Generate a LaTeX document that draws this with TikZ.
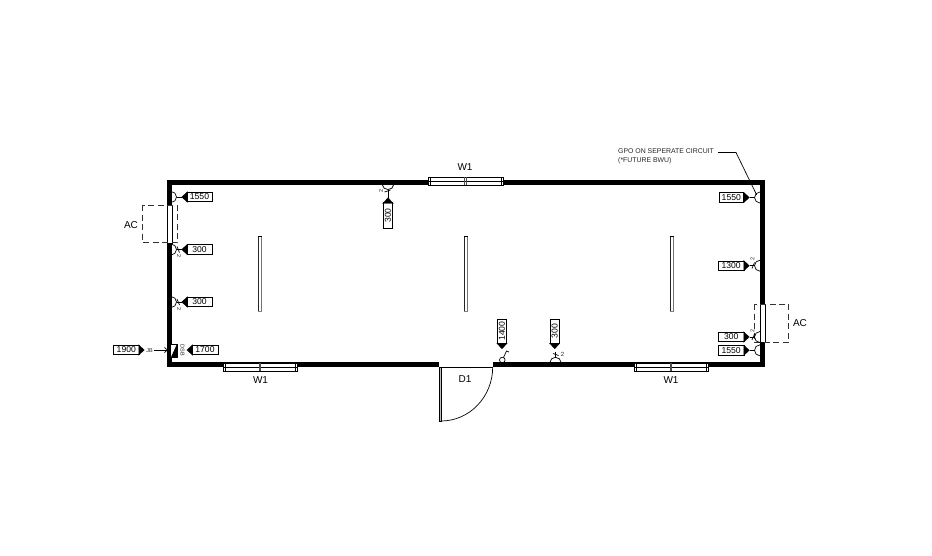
\documentclass[tikz,border=0pt]{standalone}
\usepackage{fontspec}
\setmainfont{Liberation Sans}
\usetikzlibrary{arrows.meta}
\tikzset{
  wall/.style={line width=5.3pt,line join=miter},
  thinline/.style={line width=0.7pt},
  glazing/.style={line width=0.7pt,fill=white},
  acunit/.style={line width=0.7pt,dash pattern=on 6pt off 3.5pt,black!80},
  tagbox/.style={draw,line width=0.7pt,fill=white,inner sep=0pt,minimum height=9.5pt,font=\fontsize{8.6}{9}\selectfont},
  tagtip/.style={-{Triangle[length=6pt,width=11pt]},line width=0.1pt},
  roomlabel/.style={font=\fontsize{10}{11}\selectfont,inner sep=0pt},
  smalllabel/.style={font=\fontsize{5.5}{6}\selectfont,inner sep=0pt,black!85}
}
\begin{document}
\begin{tikzpicture}[x=1pt,y=-1pt]
        \useasboundingbox (0,0) rectangle (932,555);

        %%%%%%%%%% Walls %%%%%%%%%%
        \draw[wall] (439,364.8) -- (169.2,364.8) -- (169.2,182.5) -- (762.5,182.5) -- (762.5,364.8) -- (492.7,364.8);

        %%%%%%%%%% Windows %%%%%%%%%%
        \draw[glazing] (428,177) rectangle (503,185);
        \draw[thinline] (430,177) -- (430,185);
        \draw[thinline] (501,177) -- (501,185);
        \draw[thinline] (428,181) -- (503,181);
        \draw[thinline,black!70] (464.8,177) -- (464.8,185);
        \draw[thinline,black!70] (466.4,177) -- (466.4,185);

        \draw[glazing] (223,363) rectangle (297,371);
        \draw[thinline] (225,363) -- (225,371);
        \draw[thinline] (295,363) -- (295,371);
        \draw[thinline] (223,367) -- (297,367);
        \draw[thinline,black!70] (259.2,363) -- (259.2,371);
        \draw[thinline,black!70] (260.8,363) -- (260.8,371);

        \draw[glazing] (634,363) rectangle (708,371);
        \draw[thinline] (636,363) -- (636,371);
        \draw[thinline] (706,363) -- (706,371);
        \draw[thinline] (634,367) -- (708,367);
        \draw[thinline,black!70] (670.2,363) -- (670.2,371);
        \draw[thinline,black!70] (671.8,363) -- (671.8,371);

        %%%%%%%%%% Door %%%%%%%%%%
        \draw[thinline] (439,367) -- (492.7,367);
        \draw[thinline,fill=black!25] (439,367) rectangle (441,421);
        \draw[thinline] (441,421) arc (90:0:51.7 and 54);

        %%%%%%%%%% AC units %%%%%%%%%%
        \draw[glazing] (167,205) rectangle (172,243);
        \draw[glazing] (760,304) rectangle (765,342);
        \draw[acunit] (142.7,205) rectangle (177.3,242.7);
        \draw[acunit] (754,304) rectangle (788.7,342);

        %%%%%%%%%% Lights %%%%%%%%%%
        \draw[line width=1pt,black!85] (258.3,236) -- (258.3,311);
        \draw[line width=1pt,black!55] (261.5,236) -- (261.5,311);
        \draw[thinline] (257.5,236) -- (262.3,236);
        \draw[thinline,black!50] (257.5,311) -- (262.3,311);
        \draw[line width=1pt,black!85] (464.3,236) -- (464.3,311);
        \draw[line width=1pt,black!55] (467.5,236) -- (467.5,311);
        \draw[thinline] (463.5,236) -- (468.3,236);
        \draw[thinline,black!50] (463.5,311) -- (468.3,311);
        \draw[line width=1pt,black!85] (670.3,236) -- (670.3,311);
        \draw[line width=1pt,black!55] (673.5,236) -- (673.5,311);
        \draw[thinline] (669.5,236) -- (674.3,236);
        \draw[thinline,black!50] (669.5,311) -- (674.3,311);

        %%%%%%%%%% Left wall %%%%%%%%%%
        \node[tagbox,minimum width=25pt] (leftA) at (199.5,197) {1550};
        \node[tagbox,minimum width=25pt] (leftB) at (199.5,249.5) {300};
        \node[tagbox,minimum width=25pt] (leftC) at (199.5,302) {300};
        \node[tagbox,minimum width=26pt] (leftD) at (205,350) {1700};
        \node[tagbox,minimum width=26pt] (leftE) at (126.3,350) {1900};
        \coordinate (tipA) at (181.5,197);
        \coordinate (tipB) at (181.5,249.5);
        \coordinate (tipC) at (181.5,302);
        \coordinate (tipD) at (186.7,350);
        \coordinate (tipE) at (144.5,350);
        \draw[tagtip] (leftA) -- (tipA);
        \draw[tagtip] (leftB) -- (tipB);
        \draw[tagtip] (leftC) -- (tipC);
        \draw[tagtip] (leftD) -- (tipD);
        \draw[tagtip] (leftE) -- (tipE);
        \draw[thinline] (171,191.5) arc (-90:90:5.5);
        \draw[thinline] (176.5,197) -- (tipA);
        \draw[thinline] (171,244) arc (-90:90:5.5);
        \draw[thinline] (176.5,249.5) -- (tipB);
        \draw[thinline] (177,246.5) -- (179.5,252.5);
        \draw[thinline] (171,296.5) arc (-90:90:5.5);
        \draw[thinline] (176.5,302) -- (tipC);
        \draw[thinline] (177,299) -- (179.5,305);
        \node[smalllabel,rotate=-90] (twoB) at (179,256.5) {2};
        \node[smalllabel,rotate=-90] (twoC) at (179,309) {2};
        \node[smalllabel] (jb) at (149.5,350.5) {JB};
        \coordinate (board) at (168,350);
        \draw[thinline,-{Straight Barb[length=3pt,width=5pt]}] (153.5,350) -- (board);
        \draw[thinline,fill=white] (170.7,344) rectangle (177,357.7);
        \fill (170.7,357.7) -- (177,344) -- (177,357.7) -- cycle;
        \node[smalllabel,rotate=-90] (dsb) at (182.5,350.5) {DSB};

        %%%%%%%%%% Top wall %%%%%%%%%%
        \node[tagbox,minimum width=25.6pt,rotate=90] (topA) at (388,215.5) {300};
        \coordinate (tipF) at (388,197.5);
        \draw[tagtip] (topA) -- (tipF);
        \draw[thinline] (382.5,185) arc (180:0:5.5 and 4.5);
        \draw[thinline] (388,189.5) -- (tipF);
        \draw[thinline] (384.5,192) -- (390.5,190);
        \node[smalllabel,rotate=90] (twoF) at (381,190.5) {2};

        %%%%%%%%%% Bottom wall %%%%%%%%%%
        \node[tagbox,minimum width=24pt,rotate=90] (botA) at (502,331) {1400};
        \node[tagbox,minimum width=24pt,rotate=90] (botB) at (554.7,331) {300};
        \coordinate (tipG) at (502,349);
        \coordinate (tipH) at (554.7,349);
        \draw[tagtip] (botA) -- (tipG);
        \draw[tagtip] (botB) -- (tipH);
        \draw[thinline] (502.3,360) circle (2.8);
        \draw[thinline] (503.5,357.5) -- (506.5,351) -- (509,352);
        \draw[thinline] (550,362.3) arc (180:360:5.5 and 5);
        \draw[thinline] (555.5,357.3) -- (555.5,352);
        \draw[thinline] (553,353.5) -- (558.5,355.5);
        \node[font=\fontsize{6}{6}\selectfont,inner sep=0pt,black!85] (twoH) at (562.5,354.5) {2};

        %%%%%%%%%% Right wall %%%%%%%%%%
        \node[tagbox,minimum width=24.5pt] (rightA) at (731.3,197.5) {1550};
        \node[tagbox,minimum width=25.5pt] (rightB) at (731.2,265.7) {1300};
        \node[tagbox,minimum width=25.5pt] (rightC) at (731.2,337) {300};
        \node[tagbox,minimum width=25.5pt] (rightD) at (731.2,350.3) {1550};
        \coordinate (tipJ) at (749.5,197.5);
        \coordinate (tipK) at (749.5,265.7);
        \coordinate (tipL) at (749.5,337);
        \coordinate (tipM) at (749.5,350.3);
        \draw[tagtip] (rightA) -- (tipJ);
        \draw[tagtip] (rightB) -- (tipK);
        \draw[tagtip] (rightC) -- (tipL);
        \draw[tagtip] (rightD) -- (tipM);
        \draw[thinline] (760,192) arc (270:90:5.5);
        \draw[thinline] (754.5,197.5) -- (tipJ);
        \draw[thinline] (760,260.2) arc (270:90:5.5);
        \draw[thinline] (754.5,265.7) -- (tipK);
        \draw[thinline] (752,268.5) -- (754.5,262.5);
        \draw[thinline] (760,331.5) arc (270:90:5.5);
        \draw[thinline] (754.5,337) -- (tipL);
        \draw[thinline] (752,340) -- (754.5,334);
        \draw[thinline] (760,344.8) arc (270:90:5.5);
        \draw[thinline] (754.5,350.3) -- (tipM);
        \node[smalllabel,rotate=90] (twoK) at (752.5,259) {2};
        \node[smalllabel,rotate=90] (twoL) at (752.5,330.5) {2};

        %%%%%%%%%% Note %%%%%%%%%%
        \node[anchor=north west,align=left,inner sep=0pt,black!85,font=\fontsize{6.9}{8.8}\selectfont] (note) at (618,148.5) {GPO ON SEPERATE CIRCUIT\\(*FUTURE BWU)};
        \coordinate (noteEnd) at (756.7,195);
        \draw[thinline] (718,152.5) -- (736,152.5) -- (noteEnd);

        %%%%%%%%%% Labels %%%%%%%%%%
        \node[roomlabel] (topWin) at (465,167) {W1};
        \node[roomlabel] (leftWin) at (260.5,380) {W1};
        \node[roomlabel] (rightWin) at (671,380) {W1};
        \node[roomlabel] (door) at (465,379.5) {D1};
        \node[roomlabel] (leftAC) at (131,225.5) {AC};
        \node[roomlabel] (rightAC) at (800,323) {AC};
    \end{tikzpicture}
\end{document}
